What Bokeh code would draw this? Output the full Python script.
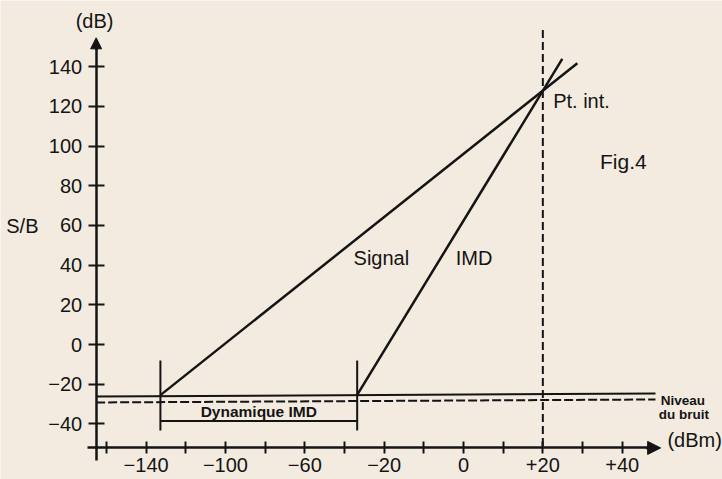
from bokeh.plotting import figure
from bokeh.models import Range1d, FixedTicker, Label, Arrow, NormalHead
from bokeh.embed import file_html
from bokeh.resources import INLINE

# ---------------- data (schematic axis positions) ----------------
x_major_ticks = [-80, -60, -40, -20, 0, 20, 40]
x_tick_labels = ["−140", "−100", "−60", "−20", "0", "+20", "+40"]
x_minor_ticks = [-90, -70, -50, -30, -10, 10, 30]
y_ticks = [-40, -20, 0, 20, 40, 60, 80, 100, 120, 140]
y_tick_labels = ["−40", "−20", "0", "20", "40", "60", "80", "100", "120", "140"]

signal_x = [-76.4, 28.7]
signal_y = [-25.5, 141.7]
imd_x = [-26.8, 24.9]
imd_y = [-25.4, 143.9]
intercept_x = 20
intercept_y = 128
noise_x = [-92.6, 48.4]
noise_solid_y = [-26.2, -24.7]
noise_dashed_y = [-29.2, -27.7]
dynamic_x = [-76.4, -26.8]

# ---------------- style ----------------
INK = "#141414"
BG = "#f3ebe0"
FONT = "Liberation Sans"
Y_AXIS_AT = -92.6
X_AXIS_AT = -52.1

p = figure(width=722, height=479,
           x_range=Range1d(-116.71, 65.29), y_range=Range1d(-68.01, 173.30),
           output_backend="svg", toolbar_location=None, min_border=0)
p.title.visible = False
p.outline_line_color = None
p.grid.visible = False
p.background_fill_color = BG
p.border_fill_color = BG

# x axis
xa = p.xaxis[0]
xa.fixed_location = X_AXIS_AT
xa.bounds = (-94.7, 46.8)
xa.ticker = FixedTicker(ticks=x_major_ticks, minor_ticks=x_minor_ticks)
xa.major_label_overrides = {t: l for t, l in zip(x_major_ticks, x_tick_labels)}
xa.axis_line_color = INK
xa.axis_line_width = 2.5
xa.major_tick_line_color = INK
xa.minor_tick_line_color = INK
xa.major_tick_line_width = 2
xa.minor_tick_line_width = 2
xa.major_tick_in = 6
xa.major_tick_out = 6
xa.minor_tick_in = 6
xa.minor_tick_out = 6
xa.major_label_standoff = 4
xa.major_label_text_font = FONT
xa.major_label_text_font_size = "20px"
xa.major_label_text_color = INK

# y axis
ya = p.yaxis[0]
ya.fixed_location = Y_AXIS_AT
ya.bounds = (-58.4, 149.5)
ya.ticker = FixedTicker(ticks=y_ticks, minor_ticks=[])
ya.major_label_overrides = {t: l for t, l in zip(y_ticks, y_tick_labels)}
ya.axis_line_color = INK
ya.axis_line_width = 2.5
ya.major_tick_line_color = INK
ya.major_tick_line_width = 2
ya.major_tick_in = 8
ya.major_tick_out = 8
ya.major_label_standoff = 6
ya.major_label_text_font = FONT
ya.major_label_text_font_size = "20px"
ya.major_label_text_color = INK

# axis arrows
p.add_layout(Arrow(end=NormalHead(size=11, fill_color=INK, line_color=INK, line_width=1),
                   x_start=Y_AXIS_AT, y_start=148.5, x_end=Y_AXIS_AT, y_end=154.5,
                   line_color=INK, line_width=2.5))
p.add_layout(Arrow(end=NormalHead(size=13, fill_color=INK, line_color=INK, line_width=1),
                   x_start=46.0, y_start=X_AXIS_AT, x_end=49.7, y_end=X_AXIS_AT,
                   line_color=INK, line_width=2.5))

# noise level lines
p.line(noise_x, noise_solid_y, line_color=INK, line_width=2)
p.line(noise_x, noise_dashed_y, line_color=INK, line_width=2, line_dash="9 3")

# signal and IMD lines
p.line(signal_x, signal_y, line_color=INK, line_width=2.5)
p.line(imd_x, imd_y, line_color=INK, line_width=2.5)

# intercept dashed vertical
p.line([intercept_x, intercept_x], [158.5, X_AXIS_AT], line_color=INK, line_width=2, line_dash="8 4")

# dynamic range bracket
p.segment(x0=dynamic_x, y0=[-8.1, -8.1], x1=dynamic_x, y1=[-43.3, -43.3], line_color=INK, line_width=2)
p.line(dynamic_x, [-38.5, -38.5], line_color=INK, line_width=2)

def lab(text, x, y, size="20px", align="left", style="normal"):
    p.add_layout(Label(x=x, y=y, text=text, text_font=FONT, text_font_size=size,
                       text_color=INK, text_align=align, text_baseline="middle",
                       text_font_style=style))

lab("(dB)", -93.0, 163.0, align="center")
lab("S/B", -111.2, 59.9, align="center")
lab("Signal", -20.7, 43.8, align="center")
lab("IMD", 2.65, 43.8, align="center")
lab("Pt. int.", intercept_x + 2.6, intercept_y - 5.1)
lab("Fig.4", 40.3, 92.2, size="21px", align="center")
lab("Niveau", 49.7, -28.2, size="13.5px", style="bold")
lab("du bruit", 49.2, -35.3, size="13.5px", style="bold")
lab("(dBm)", 51.4, -47.9, size="20px")
lab("Dynamique IMD", (dynamic_x[0] + dynamic_x[1]) / 2, -34.0, size="15.5px", align="center", style="bold")

open("out.html", "w").write(file_html(p, INLINE))
